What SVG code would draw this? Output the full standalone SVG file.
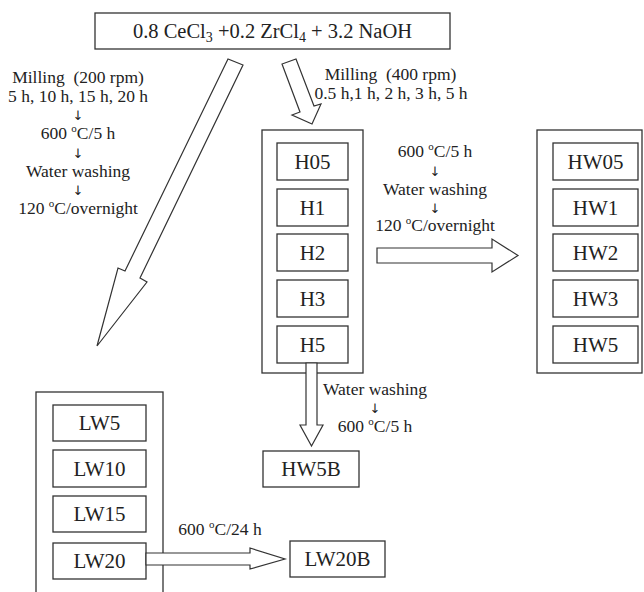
<svg xmlns="http://www.w3.org/2000/svg" width="644" height="592" viewBox="0 0 644 592">
<style>
.bx{fill:#fff;stroke:#333;stroke-width:1.3}
.ar{fill:#fff;stroke:#333;stroke-width:1.2;stroke-linejoin:miter}
.lbl{font-family:"Liberation Serif","Times New Roman",serif;font-size:21px;fill:#222;text-anchor:middle}
.note{font-family:"Liberation Serif","Times New Roman",serif;font-size:17.5px;fill:#222;text-anchor:middle;white-space:pre}
.dn{font-family:"DejaVu Sans",sans-serif;font-size:13px;fill:#222;text-anchor:middle}
</style>
<rect width="644" height="592" fill="#fff"/>
<g id="start">
<rect class="bx" x="95" y="13" width="355" height="36"/>
<text class="lbl" x="272.5" y="38" style="font-size:20.5px">0.8 CeCl<tspan dy="4" font-size="14">3</tspan><tspan dy="-4"> +0.2 ZrCl</tspan><tspan dy="4" font-size="14">4</tspan><tspan dy="-4"> + 3.2 NaOH</tspan></text>
</g>
<g id="groupH">
<rect class="bx" x="262" y="130" width="101" height="243"/>
<g id="H05"><rect class="bx" x="277" y="143" width="71" height="37"/><text class="lbl" x="312.5" y="168.5">H05</text></g>
<g id="H1"><rect class="bx" x="277" y="189" width="71" height="37"/><text class="lbl" x="312.5" y="214.5">H1</text></g>
<g id="H2"><rect class="bx" x="277" y="234" width="71" height="37"/><text class="lbl" x="312.5" y="259.5">H2</text></g>
<g id="H3"><rect class="bx" x="277" y="280" width="71" height="37"/><text class="lbl" x="312.5" y="305.5">H3</text></g>
<g id="H5"><rect class="bx" x="277" y="326" width="71" height="37"/><text class="lbl" x="312.5" y="351.5">H5</text></g>
</g>
<g id="groupHW">
<rect class="bx" x="537" y="130" width="105" height="243"/>
<g id="HW05"><rect class="bx" x="553" y="143" width="85" height="37"/><text class="lbl" x="595.5" y="168.5">HW05</text></g>
<g id="HW1"><rect class="bx" x="553" y="189" width="85" height="37"/><text class="lbl" x="595.5" y="214.5">HW1</text></g>
<g id="HW2"><rect class="bx" x="553" y="234" width="85" height="37"/><text class="lbl" x="595.5" y="259.5">HW2</text></g>
<g id="HW3"><rect class="bx" x="553" y="280" width="85" height="37"/><text class="lbl" x="595.5" y="305.5">HW3</text></g>
<g id="HW5"><rect class="bx" x="553" y="326" width="85" height="37"/><text class="lbl" x="595.5" y="351.5">HW5</text></g>
</g>
<g id="groupLW">
<rect class="bx" x="36" y="392" width="127" height="220"/>
<g id="LW5"><rect class="bx" x="53" y="405" width="93" height="36"/><text class="lbl" x="99.5" y="430">LW5</text></g>
<g id="LW10"><rect class="bx" x="53" y="450" width="93" height="37"/><text class="lbl" x="99.5" y="475.5">LW10</text></g>
<g id="LW15"><rect class="bx" x="53" y="496" width="93" height="36"/><text class="lbl" x="99.5" y="521">LW15</text></g>
<g id="LW20"><rect class="bx" x="53" y="543" width="93" height="36"/><text class="lbl" x="99.5" y="568">LW20</text></g>
</g>
<g id="HW5B"><rect class="bx" x="263" y="451" width="96" height="36"/><text class="lbl" x="311" y="476">HW5B</text></g>
<g id="LW20B"><rect class="bx" x="290" y="541" width="95" height="36"/><text class="lbl" x="337.5" y="566">LW20B</text></g>
<g id="connectors">
<polygon class="ar" points="228,59 125,271 118,268 97,346 147,282 140,278 243,65"/>
<polygon class="ar" points="282,64 300,112 292,115 312,124 321,104 314,106 296,59"/>
<polygon class="ar" points="377,248 492,248 492,239 518,255.5 492,272 492,263 377,263"/>
<polygon class="ar" points="306,363 306,425 300,425 311.5,446 323,425 317,425 317,363"/>
<polygon class="ar" points="146,553 250,553 250,548 285,559 250,569 250,565 146,565"/>
</g>
<g id="labels">
<text class="note" x="78" y="83">Milling  (200 rpm)</text>
<text class="note" x="78" y="102">5 h, 10 h, 15 h, 20 h</text>
<text class="dn" x="78" y="120">↓</text>
<text class="note" x="78" y="139">600 <tspan dy="-7" font-size="11">o</tspan><tspan dy="7">C/5 h</tspan></text>
<text class="dn" x="78" y="158">↓</text>
<text class="note" x="78" y="177">Water washing</text>
<text class="dn" x="78" y="195">↓</text>
<text class="note" x="78" y="214">120 <tspan dy="-7" font-size="11">o</tspan><tspan dy="7">C/overnight</tspan></text>
<text class="note" x="390.5" y="80">Milling  (400 rpm)</text>
<text class="note" x="391" y="99">0.5 h,1 h, 2 h, 3 h, 5 h</text>
<text class="note" x="435" y="157">600 <tspan dy="-7" font-size="11">o</tspan><tspan dy="7">C/5 h</tspan></text>
<text class="dn" x="435" y="176">↓</text>
<text class="note" x="435" y="195">Water washing</text>
<text class="dn" x="435" y="213">↓</text>
<text class="note" x="435" y="231">120 <tspan dy="-7" font-size="11">o</tspan><tspan dy="7">C/overnight</tspan></text>
<text class="note" x="375" y="395">Water washing</text>
<text class="dn" x="375" y="413">↓</text>
<text class="note" x="375" y="432">600 <tspan dy="-7" font-size="11">o</tspan><tspan dy="7">C/5 h</tspan></text>
<text class="note" x="220" y="535">600 <tspan dy="-7" font-size="11">o</tspan><tspan dy="7">C/24 h</tspan></text>
</g>
</svg>
